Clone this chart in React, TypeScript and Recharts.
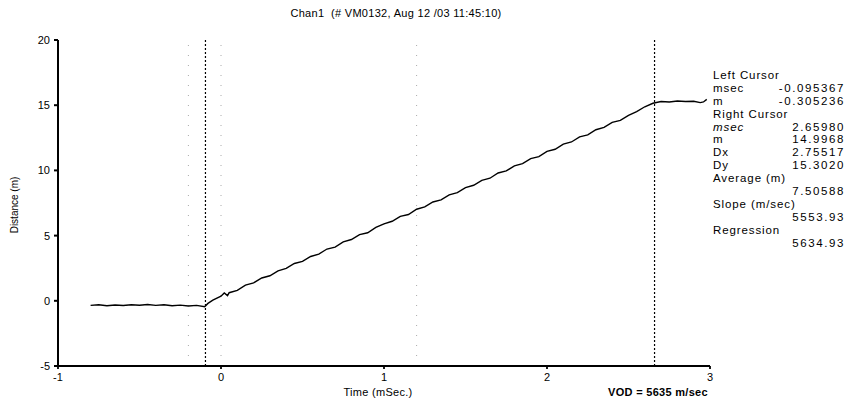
import React from 'react';
import { LineChart, Line, XAxis, YAxis, ReferenceLine } from 'recharts';

// time in msec, distance in m
const timeMs = [
	-0.8, -0.75, -0.7, -0.65, -0.6, -0.55, -0.5, -0.45, -0.4, -0.35, -0.3, -0.25, -0.2, -0.15, -0.1,
	-0.08, -0.05, 0, 0.02, 0.04, 0.05, 0.1, 0.15, 0.2, 0.25, 0.3, 0.35, 0.4, 0.45, 0.5, 0.55, 0.6,
	0.65, 0.7, 0.75, 0.8, 0.85, 0.9, 0.95, 1, 1.05, 1.1, 1.15, 1.2, 1.25, 1.3, 1.35, 1.4, 1.45, 1.5,
	1.55, 1.6, 1.65, 1.7, 1.75, 1.8, 1.85, 1.9, 1.95, 2, 2.05, 2.1, 2.15, 2.2, 2.25, 2.3, 2.35, 2.4,
	2.45, 2.5, 2.55, 2.6, 2.65, 2.7, 2.75, 2.8, 2.85, 2.9, 2.94, 2.96, 2.98,
];
const distanceM = [
	-0.35, -0.3, -0.38, -0.32, -0.36, -0.3, -0.34, -0.28, -0.35, -0.3, -0.38, -0.33, -0.4, -0.35, -0.45,
	-0.2, 0.05, 0.35, 0.6, 0.4, 0.62, 0.8, 1.2, 1.38, 1.75, 1.92, 2.3, 2.48, 2.86, 3.02, 3.4, 3.58,
	3.97, 4.12, 4.52, 4.7, 5.08, 5.22, 5.63, 5.9, 6.1, 6.48, 6.62, 7.02, 7.2, 7.58, 7.74, 8.12, 8.3, 8.68,
	8.86, 9.24, 9.4, 9.8, 9.96, 10.35, 10.52, 10.9, 11.06, 11.46, 11.62, 12.02, 12.18, 12.57, 12.72, 13.12, 13.3, 13.68,
	13.84, 14.22, 14.5, 14.88, 15.15, 15.28, 15.25, 15.32, 15.28, 15.3, 15.2, 15.25, 15.45,
];

const xTicks = [-1, 0, 1, 2, 3];
const yTicks = [-5, 0, 5, 10, 15, 20];
const cursors = [-0.095367, 2.6598];
const gridMarks = [-0.2, 0, 1.2];

const panelRows: Array<[string, string, boolean?]> = [
	['Left Cursor', ''],
	['msec', '-0.095367'],
	['m', '-0.305236'],
	['Right Cursor', ''],
	['msec', '2.65980', true],
	['m', '14.9968'],
	['Dx', '2.75517'],
	['Dy', '15.3020'],
	['Average (m)', ''],
	['', '7.50588'],
	['Slope (m/sec)', ''],
	['', '5553.93'],
	['Regression', ''],
	['', '5634.93'],
];

const data = timeMs.map((t, i) => ({ t, d: distanceM[i] }));

const FONT = '"Liberation Sans", Arial, sans-serif';

export default function App() {
	return (
		<div style={{ position: 'absolute', left: 0, top: 0, width: 846, height: 401, overflow: 'hidden', background: '#fff', fontFamily: FONT }}>
			<LineChart width={846} height={401} data={data} margin={{ top: 40, right: 136, bottom: 0, left: 0 }}>
				{gridMarks.map((x) => (
					<ReferenceLine key={'g' + x} x={x} stroke="#aaa" strokeWidth={1} strokeDasharray="1 9" />
				))}
				<XAxis
					dataKey="t"
					type="number"
					domain={[-1, 3]}
					ticks={xTicks}
					height={35}
					stroke="#000"
					strokeWidth={1.8}
					tickSize={3}
					tickMargin={4}
					tick={{ fill: '#000', fontSize: 11, fontFamily: FONT }}
				/>
				<YAxis
					type="number"
					domain={[-5, 20]}
					ticks={yTicks}
					width={58}
					stroke="#000"
					strokeWidth={2}
					tickSize={4}
					tickMargin={4}
					tick={{ fill: '#000', fontSize: 11, fontFamily: FONT }}
				/>
				{cursors.map((x) => (
					<ReferenceLine key={'c' + x} x={x} stroke="#000" strokeWidth={1.2} strokeDasharray="2 2" />
				))}
				<Line dataKey="d" type="linear" stroke="#000" strokeWidth={1.4} dot={false} isAnimationActive={false} />
			</LineChart>

			<div style={{ position: 'absolute', left: 260, width: 272, top: 7, textAlign: 'center', fontSize: 11, letterSpacing: 0.3 }}>
				Chan1&nbsp;&nbsp;(# VM0132, Aug 12 /03 11:45:10)
			</div>
			<div style={{ position: 'absolute', left: 320, width: 116, top: 386, textAlign: 'center', fontSize: 11, letterSpacing: 0.3 }}>
				Time (mSec.)
			</div>
			<div style={{ position: 'absolute', left: 590, width: 136, top: 386, textAlign: 'center', fontSize: 11, fontWeight: 'bold', letterSpacing: 0.3 }}>
				VOD = 5635 m/sec
			</div>
			<div style={{ position: 'absolute', left: 14, top: 205, transform: 'translate(-50%, -50%) rotate(-90deg)', whiteSpace: 'nowrap', fontSize: 10, fontFamily: '"Liberation Sans Narrow", ' + FONT }}>
				Distance (m)
			</div>

			<div style={{ position: 'absolute', left: 713, top: 69, width: 132, fontSize: 11.5, letterSpacing: 0.9, lineHeight: '12.9px' }}>
				{panelRows.map(([label, value, italic], i) => (
					<div key={i} style={{ position: 'relative', height: 12.9, whiteSpace: 'nowrap' }}>
						<span style={{ fontStyle: italic ? 'italic' : 'normal' }}>{label}</span>
						{value && <span style={{ position: 'absolute', right: 0, top: 0, letterSpacing: 1.6 }}>{value}</span>}
					</div>
				))}
			</div>
		</div>
	);
}
